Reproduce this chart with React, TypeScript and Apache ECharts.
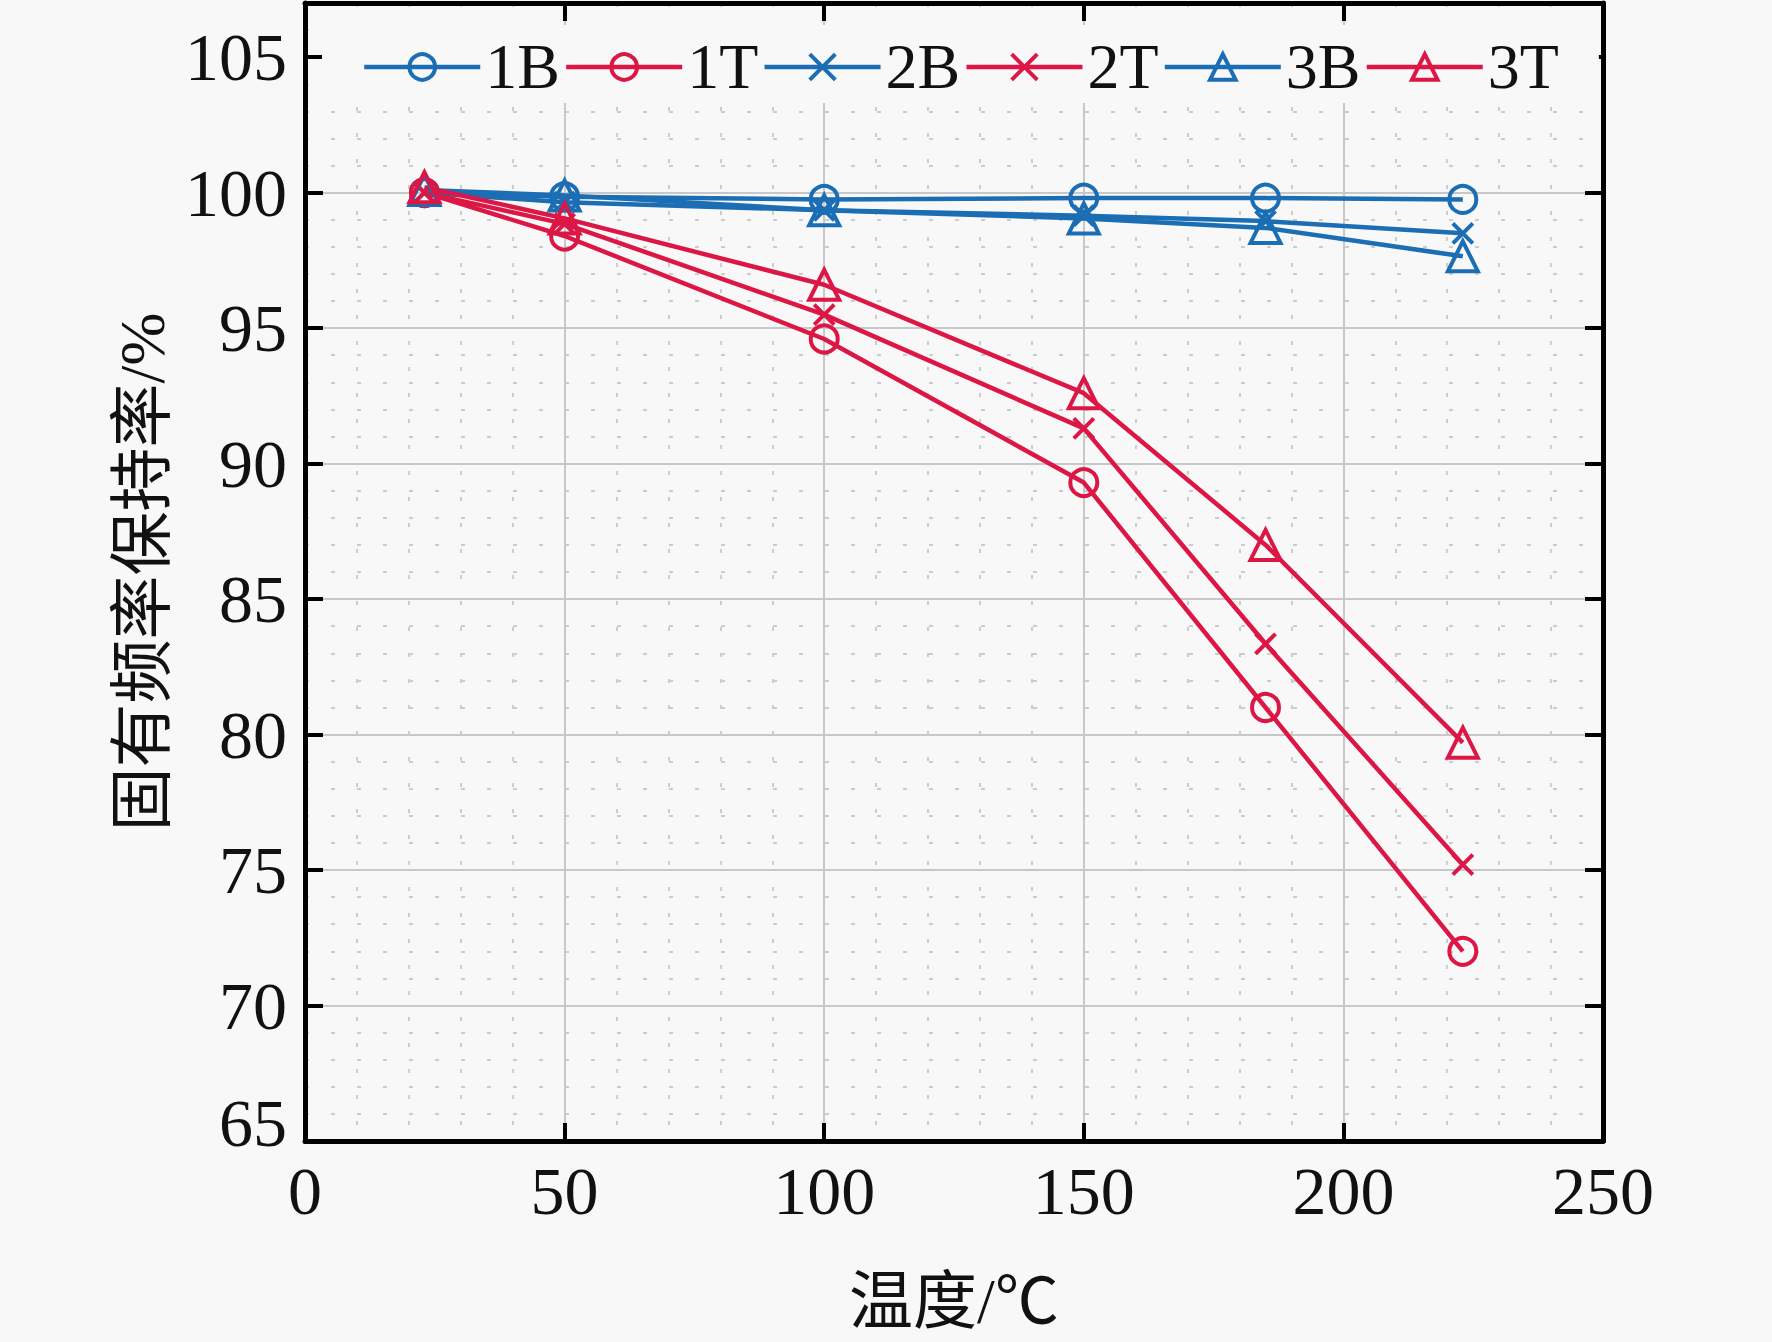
import React, { useEffect, useRef } from "react";
import * as echarts from "echarts";

// ---- data ----
const temperatures = [23, 50, 100, 150, 185, 223];
const retention1B = [100.0, 99.85, 99.75, 99.8, 99.8, 99.75];
const retention1T = [100.0, 98.4, 94.6, 89.3, 81.0, 72.0];
const retention2B = [100.0, 99.65, 99.35, 99.15, 98.95, 98.5];
const retention2T = [100.0, 98.85, 95.5, 91.3, 83.35, 75.2];
const retention3B = [100.1, 99.9, 99.35, 99.05, 98.7, 97.65];
const retention3T = [100.2, 99.05, 96.6, 92.6, 87.0, 79.7];
const seriesNames = ["1B", "1T", "2B", "2T", "3B", "3T"];
const xAxisTitle = "温度/℃";
const yAxisTitle = "固有频率保持率/%";

const BLUE = "#1b6db4";
const RED = "#dc1745";
const SERIF = "'Liberation Serif', 'Noto Sans CJK SC', serif";
const X_SYMBOL = "path://M0,0L10,10M10,0L0,10";

function makeSeries(name: string, values: number[], color: string, symbol: string, size: number) {
  return {
    type: "line",
    name,
    xAxisIndex: 0,
    yAxisIndex: 0,
    data: temperatures.map((t, i) => [t, values[i]]),
    symbol,
    symbolSize: size,
    showAllSymbol: true,
    lineStyle: { color, width: 4.5 },
    itemStyle: { color: "transparent", borderColor: color, borderWidth: 4 },
    emphasis: { disabled: true },
  };
}

export default function App() {
  const ref = useRef<HTMLDivElement>(null);
  useEffect(() => {
    const chart = echarts.init(ref.current!, null, { renderer: "svg" });
    const axisLine = { show: true, onZero: false, lineStyle: { color: "#000", width: 5 } };
    const axisTick = { show: true, inside: true, length: 18, lineStyle: { color: "#000", width: 4 } };
    const option: any = {
      animation: false,
      backgroundColor: "#f8f8f8",
      grid: { left: 305, right: 169, top: 3, bottom: 201, containLabel: false, outerBoundsMode: "none" },
      legend: {
        left: 322,
        top: 25,
        padding: [10, 40, 4, 40],
        backgroundColor: "#f8f8f8",
        itemWidth: 116,
        itemHeight: 32,
        itemGap: 4,
        data: seriesNames,
        textStyle: { fontSize: 64, fontFamily: SERIF, color: "#111" },
        itemStyle: { borderWidth: 4 },
        lineStyle: { width: 4.5 },
      },
      xAxis: [
        {
          type: "value",
          position: "bottom",
          min: 0,
          max: 250,
          interval: 50,
          axisLine,
          axisTick,
          axisLabel: { fontSize: 68, fontFamily: SERIF, color: "#111", margin: 16 },
          splitLine: { show: true, lineStyle: { color: "#c8c8c8", width: 2 } },
          minorTick: { show: false, splitNumber: 5 },
          minorSplitLine: { show: true, lineStyle: { color: "#cccccc", width: 2, type: [4, 22] } },
          name: xAxisTitle,
          nameLocation: "middle",
          nameGap: 128,
          nameTextStyle: { fontSize: 64, fontFamily: SERIF, color: "#111" },
        },
        {
          type: "value",
          position: "top",
          min: 0,
          max: 250,
          interval: 50,
          axisLine,
          axisTick,
          axisLabel: { show: false },
          splitLine: { show: false },
        },
      ],
      yAxis: [
        {
          type: "value",
          position: "left",
          min: 65,
          max: 107,
          interval: 5,
          axisLine,
          axisTick,
          axisLabel: {
            fontSize: 68,
            fontFamily: SERIF,
            color: "#111",
            margin: 18,
            formatter: (v: number) => (v === 65 ? "{lo|65}" : v % 5 === 0 ? String(v) : ""),
            rich: { lo: { fontSize: 68, fontFamily: SERIF, color: "#111", padding: [0, 0, 36, 0] } },
          },
          splitLine: { show: true, lineStyle: { color: "#c8c8c8", width: 2 } },
          name: yAxisTitle,
          nameLocation: "middle",
          nameGap: 122,
          nameTextStyle: { fontSize: 64, fontFamily: SERIF, color: "#111" },
        },
        {
          type: "value",
          position: "right",
          min: 65,
          max: 107,
          interval: 5,
          axisLine,
          axisTick,
          axisLabel: { show: false },
          splitLine: { show: false },
        },
        {
          type: "value",
          position: "left",
          min: 65,
          max: 107,
          interval: 1,
          axisLine: { show: false },
          axisTick: { show: false },
          axisLabel: { show: false },
          splitLine: { show: true, lineStyle: { color: "#cccccc", width: 2, type: [4, 22] } },
          z: -1,
        },
      ],
      series: [
        makeSeries("1B", retention1B, BLUE, "circle", 27),
        makeSeries("1T", retention1T, RED, "circle", 27),
        makeSeries("2B", retention2B, BLUE, X_SYMBOL, 20),
        makeSeries("2T", retention2T, RED, X_SYMBOL, 20),
        makeSeries("3B", retention3B, BLUE, "triangle", 30),
        makeSeries("3T", retention3T, RED, "triangle", 30),
      ],
    };
    chart.setOption(option);
    return () => chart.dispose();
  }, []);
  return (
    <div
      ref={ref}
      style={{ position: "fixed", left: 0, top: 0, width: 1772, height: 1342, background: "#f8f8f8" }}
    />
  );
}
